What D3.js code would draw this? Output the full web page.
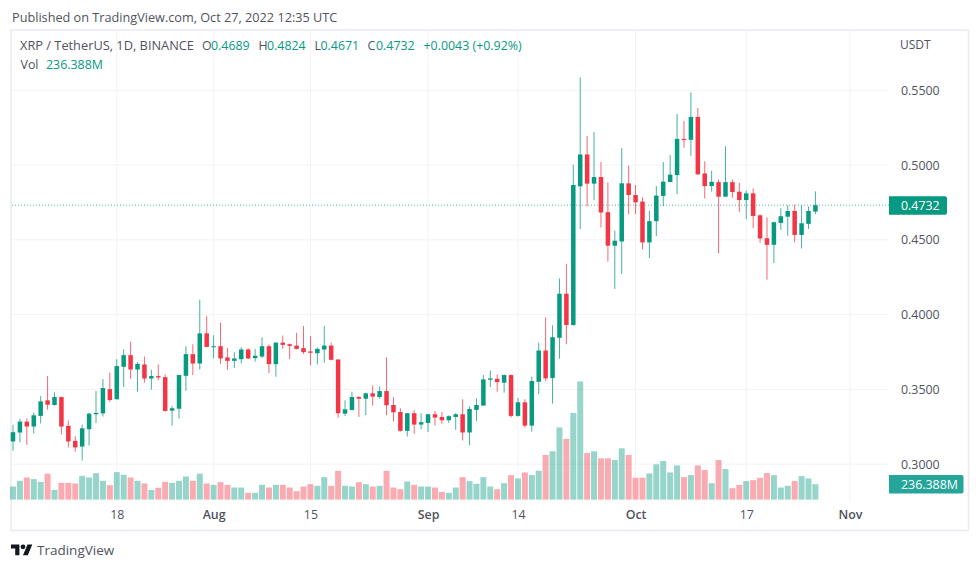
<!DOCTYPE html>
<html>
<head>
<meta charset="utf-8">
<script src="https://cdn.jsdelivr.net/npm/d3@7"></script>
<style>
html, body { margin: 0; padding: 0; background: #fff; }
svg { display: block; font-family: "Open Sans", sans-serif; }
</style>
</head>
<body>
<svg id="chart" width="980" height="569"></svg>
<script>
// daily XRP/USDT candles, 3 Jul - 27 Oct 2022
const firstDay = new Date(Date.UTC(2022, 6, 3));
const opens = [.3152,.3212,.3285,.3252,.3323,.3427,.3396,.3449,.3256,.3156,
  .3118,.3234,.3334,.3340,.3502,.3434,.3651,.3729,.3633,.3667,
  .3573,.3589,.3582,.3358,.3371,.3591,.3736,.3673,.3875,.3782,
  .3789,.3714,.3691,.3702,.3767,.3709,.3720,.3789,.3669,.3813,
  .3802,.3793,.3776,.3754,.3742,.3767,.3793,.3700,.3338,.3363,
  .3449,.3438,.3474,.3449,.3489,.3396,.3349,.3223,.3341,.3265,
  .3276,.3334,.3316,.3294,.3316,.3334,.3212,.3363,.3392,.3565,
  .3571,.3545,.3596,.3323,.3414,.3258,.3551,.3760,.3576,.3845,
  .4140,.3931,.4858,.5071,.4876,.4920,.4685,.4461,.4489,.4878,
  .4800,.4756,.4483,.4625,.4794,.4887,.4933,.5175,.5169,.5322,
  .4944,.4860,.4886,.4789,.4886,.4822,.4766,.4811,.4664,.4511,
  .4467,.4613,.4655,.4693,.4533,.4607,.4689];
const highs = [.3263,.3303,.3307,.3345,.3456,.3589,.3480,.3451,.3292,.3187,
  .3265,.3343,.3491,.3569,.3613,.3702,.3767,.3820,.3682,.3720,
  .3631,.3667,.3600,.3389,.3596,.3789,.3802,.4100,.3989,.3862,
  .3947,.3776,.3749,.3782,.3776,.3771,.3849,.3800,.3813,.3860,
  .3807,.3878,.3924,.3856,.3780,.3924,.3813,.3700,.3427,.3485,
  .3456,.3478,.3527,.3520,.3714,.3449,.3374,.3343,.3361,.3341,
  .3336,.3356,.3349,.3327,.3341,.3434,.3387,.3440,.3596,.3627,
  .3600,.3600,.3600,.3443,.3434,.3585,.3813,.3982,.3929,.4242,
  .4340,.5002,.5586,.5195,.5220,.5020,.4885,.4561,.5113,.4996,
  .4867,.4785,.4696,.4860,.5020,.5067,.5342,.5295,.5486,.5382,
  .5026,.4962,.4904,.5126,.4904,.4882,.4829,.4844,.4671,.4651,
  .4622,.4711,.4731,.4735,.4731,.4724,.4824];
const lows = [.3090,.3147,.3129,.3205,.3272,.3365,.3391,.3198,.3112,.3083,
  .3025,.3125,.3276,.3318,.3416,.3434,.3516,.3571,.3485,.3545,
  .3498,.3562,.3351,.3258,.3305,.3491,.3596,.3633,.3784,.3707,
  .3669,.3631,.3643,.3674,.3702,.3685,.3711,.3609,.3585,.3771,
  .3702,.3767,.3738,.3660,.3667,.3678,.3694,.3310,.3323,.3358,
  .3316,.3329,.3392,.3438,.3327,.3285,.3218,.3185,.3203,.3234,
  .3216,.3258,.3270,.3276,.3230,.3159,.3125,.3287,.3392,.3516,
  .3485,.3478,.3312,.3318,.3245,.3218,.3469,.3556,.3405,.3705,
  .3802,.3925,.4572,.4725,.4765,.4583,.4354,.4172,.4272,.4672,
  .4672,.4436,.4378,.4525,.4725,.4885,.4805,.5116,.5062,.4933,
  .4777,.4822,.4409,.4786,.4782,.4686,.4638,.4578,.4480,.4234,
  .4345,.4567,.4527,.4484,.4442,.4573,.4671];
const closes = [.3214,.3285,.3252,.3327,.3420,.3398,.3449,.3252,.3152,.3112,
  .3240,.3338,.3343,.3509,.3429,.3656,.3729,.3633,.3671,.3573,
  .3589,.3580,.3356,.3374,.3596,.3736,.3673,.3875,.3784,.3789,
  .3707,.3691,.3707,.3767,.3707,.3725,.3789,.3669,.3813,.3798,
  .3791,.3771,.3749,.3745,.3771,.3793,.3698,.3341,.3367,.3449,
  .3438,.3474,.3452,.3489,.3394,.3347,.3223,.3341,.3265,.3281,
  .3334,.3312,.3294,.3321,.3334,.3212,.3369,.3396,.3567,.3574,
  .3549,.3596,.3323,.3414,.3258,.3556,.3760,.3574,.3849,.4140,
  .3931,.4867,.5071,.4876,.4920,.4683,.4461,.4494,.4878,.4800,
  .4751,.4483,.4625,.4796,.4889,.4936,.5175,.5167,.5322,.4938,
  .4860,.4888,.4789,.4886,.4820,.4766,.4811,.4660,.4509,.4467,
  .4618,.4658,.4693,.4533,.4611,.4693,.4732];
// volume in millions
const volumes = [200,288,339,314,272,396,149,257,257,247,
  365,339,406,288,221,421,380,339,288,247,
  149,180,272,257,288,355,288,396,247,226,
  267,226,185,185,103,103,226,185,226,226,
  185,129,200,236,211,344,211,442,211,200,
  267,236,200,211,442,185,159,278,226,200,
  200,185,118,103,185,344,283,242,344,200,
  159,252,375,324,416,375,442,684,740,1105,
  930,1326,1809,714,740,632,632,607,786,684,
  334,334,401,540,591,416,524,344,375,524,
  452,252,607,468,175,226,283,298,334,406,
  375,185,211,283,360,324,236.388];

const priceTicks = [0.30, 0.35, 0.40, 0.45, 0.50, 0.55];
const timeTicks = [
  new Date(Date.UTC(2022, 6, 18)), new Date(Date.UTC(2022, 7, 1)),
  new Date(Date.UTC(2022, 7, 15)), new Date(Date.UTC(2022, 8, 1)),
  new Date(Date.UTC(2022, 8, 14)), new Date(Date.UTC(2022, 9, 1)),
  new Date(Date.UTC(2022, 9, 17)), new Date(Date.UTC(2022, 10, 1))
];
const lastPrice = 0.4732;
const lastVolumeLabel = "236.388M";

const up = "#089981", down = "#f23645";
const textColor = "#50535e";
const gridColor = "#f2f3f8";
const borderColor = "#e9ebf3";
const paneLeft = 12, paneRight = 889, paneTop = 31, paneBottom = 500;

const days = opens.map((d, i) => d3.utcDay.offset(firstDay, i));

const x = d3.scaleUtc()
    .domain([firstDay, timeTicks[7]])
    .range([13, 850]);
const y = d3.scaleLinear().domain([0.30, 0.55]).range([464.2, 90.3]);
const yVol = d3.scaleLinear().domain([0, 1800]).range([499.6, 382.1]);

const svg = d3.select("#chart");

svg.append("text").attr("x", 12).attr("y", 22)
    .attr("font-size", 12.7).attr("fill", textColor)
    .text("Published on TradingView.com, Oct 27, 2022 12:35 UTC");

// grid
const grid = svg.append("g").attr("stroke", gridColor).attr("stroke-width", 1);
grid.selectAll(".h").data(priceTicks).enter().append("line").attr("class", "h")
    .attr("x1", paneLeft).attr("x2", paneRight)
    .attr("y1", d => y(d)).attr("y2", d => y(d));
grid.selectAll(".v").data(timeTicks).enter().append("line").attr("class", "v")
    .attr("x1", d => x(d)).attr("x2", d => x(d))
    .attr("y1", paneTop).attr("y2", paneBottom);

// pane border
svg.append("rect")
    .attr("x", 11).attr("y", 30).attr("width", 957.5).attr("height", 500.5)
    .attr("fill", "none").attr("stroke", borderColor).attr("stroke-width", 1.5);

// volume
svg.append("g").selectAll("rect").data(volumes).enter().append("rect")
    .attr("x", (d, i) => x(days[i]) - 3)
    .attr("width", 6)
    .attr("y", d => yVol(d))
    .attr("height", d => yVol(0) - yVol(d))
    .attr("fill", (d, i) => closes[i] >= opens[i] ? up : down)
    .attr("opacity", 0.42);

// last price line
svg.append("line")
    .attr("x1", paneLeft).attr("x2", paneRight)
    .attr("y1", y(lastPrice)).attr("y2", y(lastPrice))
    .attr("stroke", up).attr("stroke-width", 1)
    .attr("stroke-dasharray", "1 2").attr("opacity", 0.7);

// candles
const candles = svg.append("g").selectAll("g").data(days).enter().append("g")
    .attr("fill", (d, i) => closes[i] >= opens[i] ? up : down)
    .attr("stroke", (d, i) => closes[i] >= opens[i] ? up : down);
candles.append("line")
    .attr("x1", d => x(d)).attr("x2", d => x(d))
    .attr("y1", (d, i) => y(highs[i])).attr("y2", (d, i) => y(lows[i]))
    .attr("stroke-width", 1).attr("opacity", 0.75);
candles.append("rect")
    .attr("x", d => x(d) - 2.25)
    .attr("width", 4.5)
    .attr("y", (d, i) => y(Math.max(opens[i], closes[i])))
    .attr("height", (d, i) => Math.max(1, Math.abs(y(opens[i]) - y(closes[i]))))
    .attr("stroke", "none");

// axes
const priceAxis = svg.append("g")
    .attr("transform", `translate(${paneRight},0)`)
    .call(d3.axisRight(y).tickValues(priceTicks).tickSize(0).tickPadding(12).tickFormat(d3.format(".4f")));
priceAxis.select(".domain").remove();
priceAxis.selectAll("text")
    .attr("font-family", "'Open Sans', sans-serif").attr("font-size", 12.4).attr("fill", textColor);

const timeAxis = svg.append("g")
    .attr("transform", `translate(0,${paneBottom})`)
    .call(d3.axisBottom(x).tickValues(timeTicks).tickSize(0).tickPadding(10)
        .tickFormat(d => d.getUTCDate() === 1 ? d3.utcFormat("%b")(d) : d.getUTCDate()));
timeAxis.select(".domain").remove();
timeAxis.selectAll("text")
    .attr("font-family", "'Open Sans', sans-serif").attr("font-size", 12.4).attr("fill", textColor)
    .attr("font-weight", d => d.getUTCDate() === 1 ? 600 : 400);

svg.append("text").attr("x", 900).attr("y", 49)
    .attr("font-size", 12).attr("fill", textColor).text("USDT");

// legend
const legend = svg.append("g").attr("font-size", 12.4);
const legendParts = [
  ["XRP / TetherUS, 1D, BINANCE", 20, 51, textColor, 12.8],
  ["O", 202, 51, textColor, 12.4], ["0.4689", 211, 51, up, 12.4],
  ["H", 258.5, 51, textColor, 12.4], ["0.4824", 267, 51, up, 12.4],
  ["L", 314.5, 51, textColor, 12.4], ["0.4671", 320.5, 51, up, 12.4],
  ["C", 367.5, 51, textColor, 12.4], ["0.4732", 376, 51, up, 12.4],
  ["+0.0043 (+0.92%)", 423.5, 51, up, 12.4],
  ["Vol", 20.5, 70, textColor, 12.4], [lastVolumeLabel, 46, 70, up, 12.4]
];
legend.selectAll("text").data(legendParts).enter().append("text")
    .attr("x", d => d[1]).attr("y", d => d[2] - 1).attr("fill", d => d[3])
    .attr("font-size", d => d[4]).text(d => d[0]);

// value tags on the price scale
const tag = (tx, ty, w, h, fill, label) => {
  svg.append("path")
      .attr("d", `M${tx},${ty}h${w - 2}a2,2 0 0 1 2,2v${h - 4}a2,2 0 0 1 -2,2h${2 - w}z`)
      .attr("fill", fill);
  svg.append("text").attr("x", 901).attr("y", ty + h / 2 + 4.5)
      .attr("font-size", 12.4).attr("fill", "#fff").text(label);
};
tag(889, y(lastPrice) - 9, 58, 18.5, up, d3.format(".4f")(lastPrice));
tag(889, 475, 74.5, 18.5, "#26a69a", lastVolumeLabel);

// footer logo
const logo = svg.append("g").attr("transform", "translate(11,542) scale(0.6)").attr("fill", "#131722");
logo.append("path").attr("d", "M14 22H7V11H0V4h14v18zM28 22h-8l7.5-18h8L28 22z");
logo.append("circle").attr("cx", 20).attr("cy", 8).attr("r", 4);
svg.append("text").attr("x", 37).attr("y", 555)
    .attr("font-size", 13.5).attr("fill", textColor).text("TradingView");
</script>
</body>
</html>
